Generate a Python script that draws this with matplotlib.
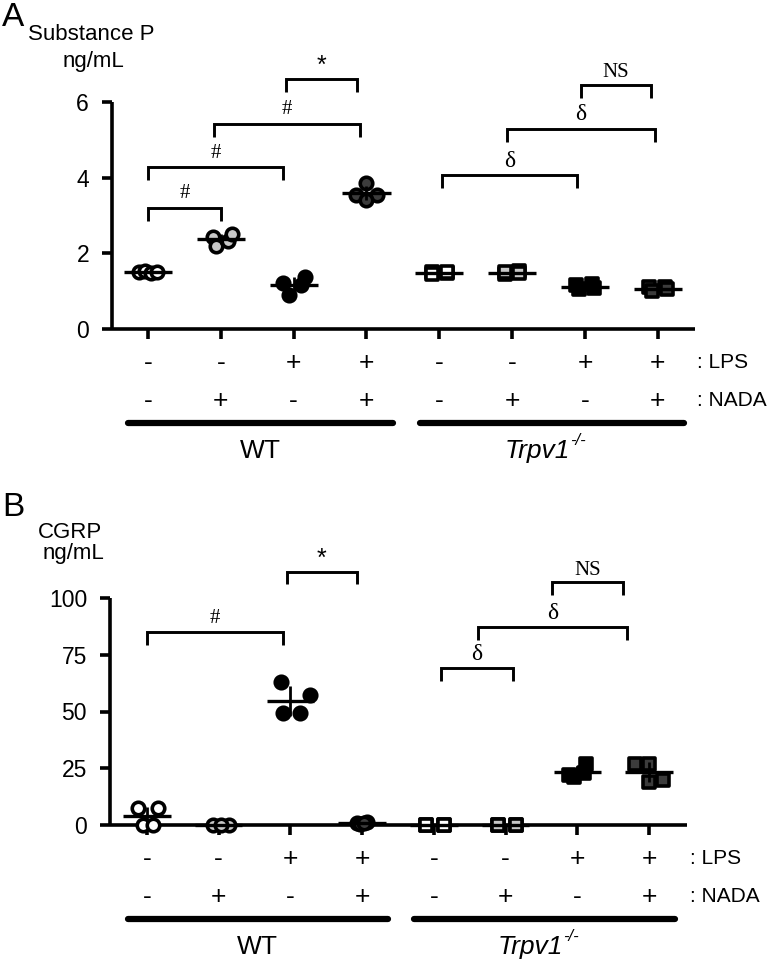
import matplotlib
matplotlib.use('Agg')
import matplotlib.pyplot as plt
from matplotlib.markers import MarkerStyle
from matplotlib.transforms import blended_transform_factory
import numpy as np

W, H = 773, 965
SANS = 'Liberation Sans'
SERIF = 'Liberation Serif'
plt.rcParams['font.family'] = [SANS, 'DejaVu Sans']

# ---------------- data ----------------
positions = [1, 2, 3, 4, 5, 6, 7, 8]
lps_row = ['-', '-', '+', '+', '-', '-', '+', '+']
nada_row = ['-', '+', '-', '+', '-', '+', '-', '+']
genotypes = ['WT', 'Trpv1']
fill_colors = ['white', '#c8c8c8', 'black', '#3c3c3c'] * 2
marker_kinds = ['o'] * 4 + ['s'] * 4

sp_yticks = [0, 2, 4, 6]
sp_vals = [
    [1.50, 1.52, 1.48, 1.50],
    [2.43, 2.20, 2.33, 2.51],
    [1.22, 0.90, 1.16, 1.38],
    [3.85, 3.55, 3.55, 3.40],
    [1.50, 1.46, 1.48, 1.50],
    [1.46, 1.50, 1.52, 1.48],
    [1.15, 1.05, 1.18, 1.08],
    [1.10, 1.00, 1.12, 1.05],
]
sp_jitter = [
    [-0.12, -0.04, 0.04, 0.12],
    [-0.11, -0.07, 0.10, 0.15],
    [-0.14, -0.07, 0.10, 0.15],
    [0.00, -0.15, 0.15, 0.00],
    [-0.10, -0.10, 0.10, 0.10],
    [-0.10, -0.10, 0.10, 0.10],
    [-0.12, -0.08, 0.10, 0.13],
    [-0.12, -0.08, 0.10, 0.13],
]
# (x1, x2, y, label)
sp_brackets = [
    (1.00, 2.00, 3.20, '#'),
    (1.00, 2.86, 4.28, '#'),
    (1.90, 3.91, 5.42, '#'),
    (2.90, 3.87, 6.61, '*'),
    (5.03, 6.89, 4.07, 'δ'),
    (5.93, 7.96, 5.29, 'δ'),
    (6.94, 7.90, 6.45, 'NS'),
]

cgrp_yticks = [0, 25, 50, 75, 100]
cgrp_vals = [
    [7.5, 7.5, 0.0, 0.0],
    [0.0, 0.0, 0.0],
    [63.0, 57.3, 49.3, 49.3],
    [1.0, 1.2, 0.6, 0.8],
    [0.0, 0.0, 0.0, 0.0],
    [0.0, 0.0, 0.0, 0.0],
    [22.0, 27.0, 21.0, 23.0],
    [27.0, 27.0, 19.0, 20.0],
]
cgrp_jitter = [
    [-0.13, 0.15, -0.05, 0.08],
    [-0.08, 0.14, 0.03],
    [-0.13, 0.27, -0.11, 0.14],
    [-0.07, 0.07, -0.03, 0.03],
    [-0.11, 0.14, -0.11, 0.14],
    [-0.11, 0.14, -0.11, 0.14],
    [-0.12, 0.12, -0.05, 0.10],
    [-0.20, 0.00, 0.00, 0.20],
]
cgrp_brackets = [
    (1.00, 2.90, 85.0, '#'),
    (2.95, 3.93, 111.5, '*'),
    (5.10, 6.10, 69.0, 'δ'),
    (5.62, 7.69, 87.2, 'δ'),
    (6.65, 7.64, 107.0, 'NS'),
]

# ---------------- figure ----------------
fig = plt.figure(figsize=(W / 100, H / 100), dpi=100)


def fy(py):
    return 1 - py / H


def fx(px):
    return px / W


def panel(rect_px, xlim, ylim, yticks, vals, jitter, brackets, tip,
          rows_py, lab_x, letter, letter_py, ylab1, ylab1_xy, ylab2_xy, ylab1_ha):
    l, t, r, b = rect_px
    ax = fig.add_axes([fx(l), fy(b), fx(r) - fx(l), (b - t) / H])
    ax.set_xlim(*xlim)
    ax.set_ylim(*ylim)
    for s in ['top', 'right']:
        ax.spines[s].set_visible(False)
    for s in ['left', 'bottom']:
        ax.spines[s].set_linewidth(2.6)
        ax.spines[s].set_capstyle('butt')
    ax.set_yticks(yticks)
    ax.set_yticklabels([str(v) for v in yticks], fontsize=16.5, family=SANS)
    ax.set_xticks(positions)
    ax.set_xticklabels([])
    ax.tick_params(axis='both', length=7.5, width=2.6, direction='out', pad=9)

    for i, p in enumerate(positions):
        v = np.array(vals[i])
        xs = p + np.array(jitter[i])
        ms = MarkerStyle(marker_kinds[i], joinstyle='round')
        ax.plot(xs, v, ls='none', marker=ms,
                ms=9 if marker_kinds[i] == 'o' else 9.0,
                mfc=fill_colors[i], mec='black', mew=2.6, zorder=3, clip_on=False)
        m = v.mean()
        sd = v.std(ddof=1) if len(v) > 1 else 0
        ax.plot([p - 0.33, p + 0.33], [m, m], color='black', lw=2.4,
                solid_capstyle='butt', zorder=4, clip_on=False)
        ax.plot([p, p], [m - sd, m + sd], color='black', lw=2.0,
                solid_capstyle='butt', zorder=4, clip_on=False)

    for x1, x2, y, lab in brackets:
        ax.plot([x1, x1, x2, x2], [y - tip, y, y, y - tip], color='black', lw=2.1,
                solid_capstyle='butt', solid_joinstyle='miter', clip_on=False)
        if lab == 'NS':
            fam, fs, off = SERIF, 15, 12
        elif lab == 'δ':
            fam, fs, off = SERIF, 17, 14
        elif lab == '*':
            fam, fs, off = SANS, 18, 13
        else:
            fam, fs, off = SERIF, 15, 14
        ax.annotate(lab, xy=((x1 + x2) / 2, y), xytext=(0, off * 0.72),
                    textcoords='offset points', ha='center', va='center',
                    fontsize=fs, family=fam, annotation_clip=False)

    tr = blended_transform_factory(ax.transData, fig.transFigure)
    lps_py, nada_py, line_py, geno_py = rows_py
    for i, p in enumerate(positions):
        ax.text(p, fy(lps_py), lps_row[i], transform=tr, ha='center', va='center',
                fontsize=19, family=SANS)
        ax.text(p, fy(nada_py), nada_row[i], transform=tr, ha='center', va='center',
                fontsize=19, family=SANS)
    fig.text(fx(lab_x), fy(lps_py), ': LPS', ha='left', va='center', fontsize=15, family=SANS)
    fig.text(fx(lab_x), fy(nada_py), ': NADA', ha='left', va='center', fontsize=15, family=SANS)

    # group lines
    for g, (a, bb) in enumerate([(positions[0], positions[3]), (positions[4], positions[7])]):
        x0, x1 = a - 0.27, bb + 0.36
        ax.plot([x0, x1], [fy(line_py)] * 2, transform=tr, color='black', lw=4.5,
                solid_capstyle='round', clip_on=False)
        xc = (x0 + x1) / 2
        if g == 0:
            ax.text(xc, fy(geno_py), genotypes[0], transform=tr, ha='center', va='center',
                    fontsize=19, family=SANS)
        else:
            t1 = ax.text(xc - 0.2, fy(geno_py), genotypes[1], transform=tr, ha='center',
                         va='center', fontsize=19, family=SANS, style='italic')
            ax.annotate('-/-', xy=(1.0, 0.62), xycoords=t1, ha='left', va='bottom',
                        fontsize=12, family=SANS, style='italic')

    fig.text(fx(letter[1]), fy(letter_py), letter[0], ha='center', va='center',
             fontsize=24, family=SANS)
    fig.text(fx(ylab1_xy[0]), fy(ylab1_xy[1]), ylab1, ha=ylab1_ha, va='center',
             fontsize=16, family=SANS)
    fig.text(fx(ylab2_xy[0]), fy(ylab2_xy[1]), 'ng/mL', ha='center', va='center',
             fontsize=16, family=SANS)
    return ax


panel((112, 102, 695, 329), (0.506, 8.51), (0, 6), sp_yticks, sp_vals, sp_jitter,
      sp_brackets, 0.34, (363, 401, 423, 451), 697, ('A', 13), 18,
      'Substance P', (28, 35), (93, 62), 'left')

panel((110, 598, 687, 825), (0.484, 8.53), (0, 100), cgrp_yticks, cgrp_vals, cgrp_jitter,
      cgrp_brackets, 5.5, (859, 897, 919, 947), 690, ('B', 13), 508,
      'CGRP', (70, 532), (73, 553), 'center')

fig.savefig('out.png', dpi=100)
